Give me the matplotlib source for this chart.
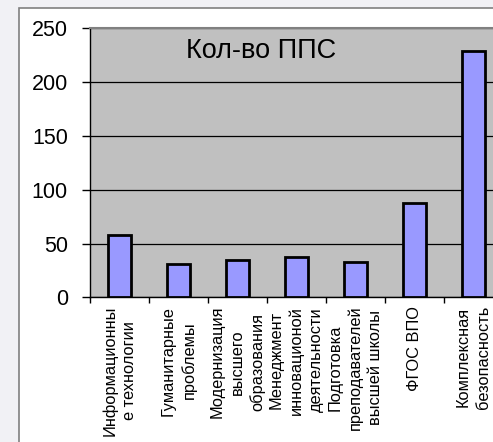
import numpy as np
import matplotlib.pyplot as plt
from matplotlib.patches import Rectangle

plt.rcParams['font.family'] = ['Liberation Sans', 'DejaVu Sans']

# Course topics and staff counts
categories = [
    "Информационны\nе технологии",
    "Гуманитарные\nпроблемы",
    "Модернизация\nвысшего\nобразования",
    "Менеджмент\nинновационой\nдеятельности",
    "Подготовка\nпреподавателей\nвысшей школы",
    "ФГОС ВПО",
    "Комплексная\nбезопасность",
]
counts = [58, 31, 35, 37, 33, 88, 229]
yticks = [0, 50, 100, 150, 200, 250]
title = "Кол-во ППС"

W, H = 493, 442
fig = plt.figure(figsize=(W / 100, H / 100), dpi=100)
fig.patch.set_facecolor('#f1f1f5')

# white chart frame behind the axes (runs off the right and bottom edges)
frame = Rectangle((19 / W, -0.05), 1.0, 1 - 8 / H + 0.05, transform=fig.transFigure,
                  facecolor='white', edgecolor='#808080', linewidth=1.2, zorder=-1)
fig.patches.append(frame)

ax = fig.add_axes([90 / W, 1 - 297.3 / H, 413 / W, 269 / H])
ax.set_zorder(1)
ax.set_facecolor('#c0c0c0')

x = np.arange(len(categories))
ax.bar(x, counts, width=0.4, color='#9999ff', edgecolor='black', linewidth=2, zorder=3)

ax.set_ylim(0, 250)
ax.set_xlim(-0.5, len(categories) - 0.5)
ax.set_yticks(yticks)
ax.yaxis.grid(True, color='black', linewidth=0.9, zorder=1)
ax.set_axisbelow(True)

# category boundaries carry the tick marks, labels sit between them
ax.set_xticks(x)
ax.set_xticklabels(categories, rotation=90, ha='center', va='top', multialignment='center',
                   fontsize=11.8, linespacing=1.4)
ax.set_xticks(np.arange(len(categories) + 1) - 0.5, minor=True)
ax.tick_params(axis='x', which='major', length=0, pad=6)
ax.tick_params(axis='x', which='minor', length=4, width=1, color='black', direction='out')
ax.tick_params(axis='y', length=6, width=1, pad=10, labelsize=15.5, direction='out')

for side in ['left', 'bottom']:
    ax.spines[side].set_color('black')
    ax.spines[side].set_linewidth(1)
for side in ['top', 'right']:
    ax.spines[side].set_color('#808080')
    ax.spines[side].set_linewidth(1.5)

# title inside the plot area: x in axes fraction, y in data units
ax.text(0.415, 222, title, transform=ax.get_yaxis_transform(),
        ha='center', va='baseline', fontsize=19.5)

fig.savefig('out.png', dpi=100, facecolor=fig.get_facecolor())
